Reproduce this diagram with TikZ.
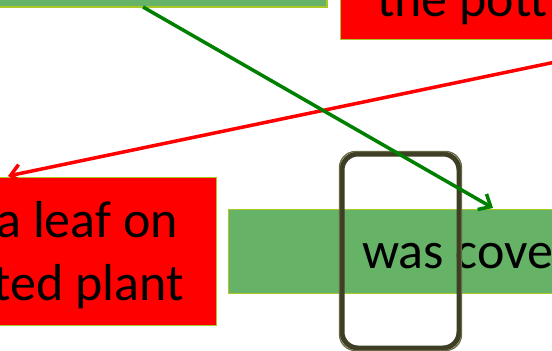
\documentclass[tikz,border=0pt]{standalone}
\usepackage{fontspec}
\setmainfont{Carlito}
\usetikzlibrary{arrows.meta}
\definecolor{boxgreen}{RGB}{102,178,102}
\definecolor{edgegreen}{RGB}{170,200,40}
\definecolor{arrgreen}{RGB}{0,128,0}
\definecolor{olive}{RGB}{62,62,36}
\definecolor{olivelight}{RGB}{105,105,70}
\tikzset{
  greenbox/.style={draw=edgegreen, line width=1.2pt, fill=boxgreen, inner sep=0pt},
  redbox/.style={draw=edgegreen, line width=1.2pt, fill=red, inner sep=0pt},
  lbl/.style={font=\fontsize{52}{62}\selectfont, inner sep=0pt, text=black},
  conn/.style={line width=3.5pt, -{Straight Barb[length=10pt,width=18pt,line width=3.5pt]}},
  framebox/.style={draw=olive, line width=5pt, rounded corners=16pt, minimum width=117pt, minimum height=194pt, inner sep=0pt},
}
\begin{document}
\begin{tikzpicture}[x=1pt,y=-1pt]
\useasboundingbox (0,0) rectangle (552,351);
% top-left green box
\node[greenbox, minimum width=427pt, minimum height=67pt] (g1) at (113.5,-26.5) {};
% top-right red box
\node[redbox, minimum width=320pt, minimum height=100pt, anchor=south west] (r1) at (340,40) {};
\node[lbl, anchor=base west] (t1) at (377,16) {the pott};
% bottom-left red box
\node[redbox, minimum width=317pt, minimum height=148pt, anchor=north east] (r2) at (217,177) {};
\node[lbl, anchor=base east] (t2) at (178,237) {a leaf on};
\node[lbl, anchor=base east] (t3) at (184,300) {ted plant};
% bottom green box
\node[greenbox, minimum width=472pt, minimum height=84pt, anchor=north west] (g2) at (228,209) {};
\node[lbl, anchor=base west] (t4) at (362,268) {was cove};
% rounded frame
\node[framebox] (frame) at (400.5,251) {};
\draw[olivelight, line width=1.3pt, rounded corners=16pt] (frame.south west) rectangle (frame.north east);
% connectors
\coordinate (gs) at (143,7);
\coordinate (ge) at (493,208);
\coordinate (rs) at (r1.south east);
\coordinate (re) at (8,176);
\draw[conn, red] (rs) -- (re);
\draw[conn, arrgreen] (gs) -- (ge);
\end{tikzpicture}
\end{document}
